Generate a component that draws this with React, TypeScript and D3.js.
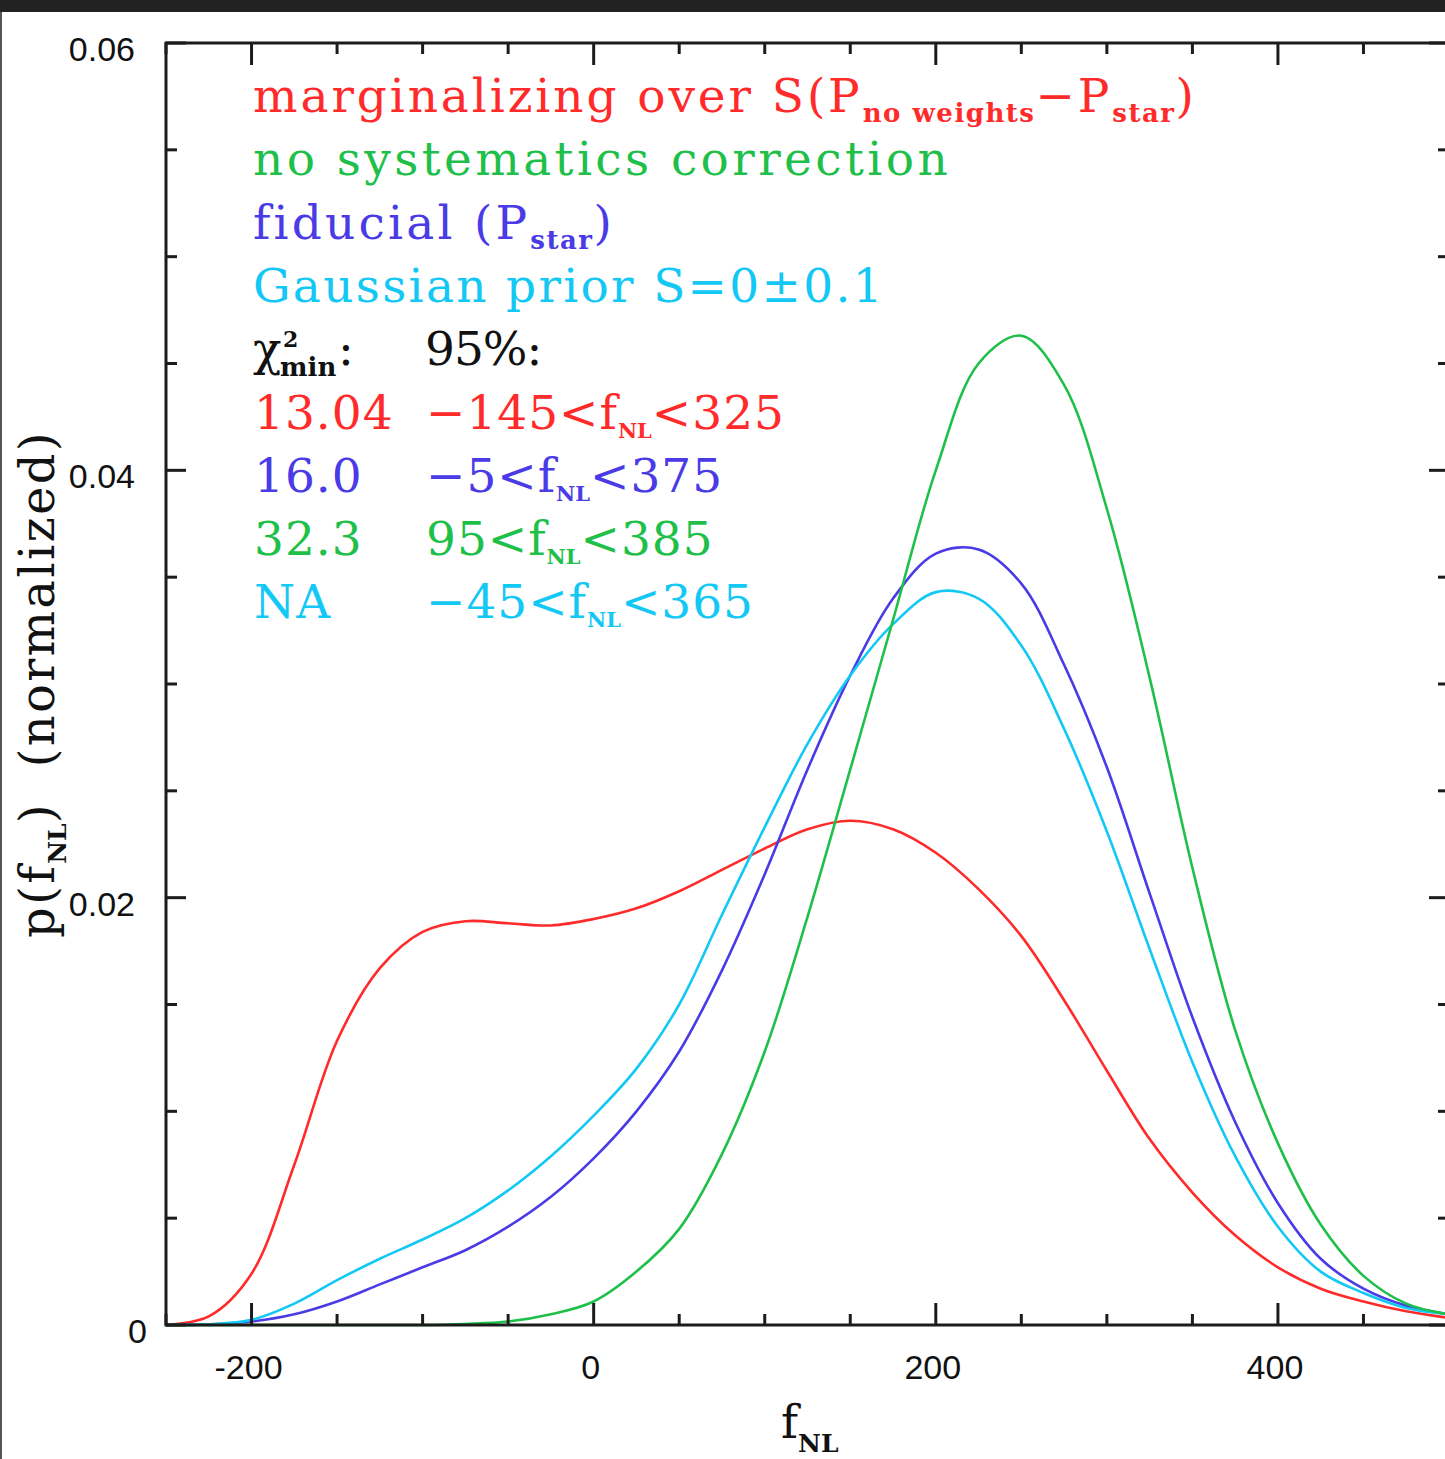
import React from 'react'
import * as d3 from 'd3'

// f_NL sample points (x) and normalized posterior for each run
const fGrid = [-250, -225, -200, -175, -150, -125, -100, -75, -50, -25, 0, 25, 50, 75, 100, 125, 150, 175, 200, 225, 250, 275, 300, 325, 350, 375, 400, 425, 450, 475, 500]
const redVals = [0, 0.0004, 0.0024, 0.0075, 0.0133, 0.0167, 0.0184, 0.0189, 0.0188, 0.0187, 0.019, 0.0195, 0.0203, 0.0213, 0.0223, 0.0232, 0.0236, 0.0232, 0.0221, 0.0204, 0.0182, 0.0152, 0.0119, 0.0087, 0.0062, 0.0042, 0.0027, 0.0017, 0.0011, 0.00064, 0.00033]
const blueVals = [0, 0.00003, 0.00016, 0.0005, 0.0011, 0.0019, 0.0027, 0.0035, 0.0046, 0.006, 0.0078, 0.01, 0.0128, 0.0166, 0.0211, 0.026, 0.0304, 0.034, 0.0361, 0.0363, 0.0347, 0.0309, 0.0261, 0.0202, 0.0144, 0.0095, 0.0057, 0.0031, 0.0017, 0.0009, 0.0005]
const cyanVals = [0, 0.00003, 0.00024, 0.001, 0.0021, 0.0031, 0.004, 0.005, 0.0063, 0.0079, 0.0098, 0.012, 0.015, 0.0192, 0.0233, 0.0272, 0.0304, 0.0328, 0.0343, 0.034, 0.0318, 0.0279, 0.0231, 0.0176, 0.0123, 0.0079, 0.0046, 0.0025, 0.0015, 0.0008, 0.0005]
const greenVals = [0, 0, 0, 0, 0, 0, 0, 0.00005, 0.00016, 0.0005, 0.0011, 0.0025, 0.0045, 0.008, 0.0128, 0.0191, 0.026, 0.033, 0.04, 0.045, 0.0463, 0.044, 0.0382, 0.0303, 0.0214, 0.0138, 0.0085, 0.0047, 0.0023, 0.001, 0.0005]

const seriesNames = ['marginalizing', 'fiducial', 'gaussian', 'nosys']
const seriesColors = ['#ff2b2b', '#4a3be6', '#14c8f5', '#1fc04a']
const seriesValues = [redVals, blueVals, cyanVals, greenVals]

const xTickLabels = ['-200', '0', '200', '400']
const yTickLabels = ['0', '0.02', '0.04', '0.06']

const RED = seriesColors[0], BLUE = seriesColors[1], CYAN = seriesColors[2], GREEN = seriesColors[3]

// legend rows: segments of [text, kind]; kind: m = main, s = subscript
const legendRows = [
  { color: RED, spacing: 2.9, parts: [['marginalizing over S(P', 'm'], ['no weights', 's'], ['\u2212P', 'm'], ['star', 's'], [')', 'm']] },
  { color: GREEN, spacing: 3.4, parts: [['no systematics correction', 'm']] },
  { color: BLUE, spacing: 3.2, parts: [['fiducial (P', 'm'], ['star', 's'], [')', 'm']] },
  { color: CYAN, spacing: 2.3, parts: [['Gaussian prior S=0\u00b10.1', 'm']] },
]
const chiCol = ['13.04', '16.0', '32.3', 'NA']
const rangeLo = ['\u2212145', '\u22125', '95', '\u221245']
const rangeHi = ['325', '375', '385', '365']
const rangeColors = [RED, BLUE, GREEN, CYAN]

const W = 1445
const H = 1459

export default function App() {
  const x = d3.scaleLinear().domain([-250, 500]).range([166, 1449])
  const y = d3.scaleLinear().domain([0, 0.06]).range([1325, 43])

  const line = d3.line<number>()
    .x((_, i) => x(fGrid[i]))
    .y(d => y(d))
    .curve(d3.curveCatmullRom.alpha(0.5))

  const xMinor = x.ticks(15)
  const xMajor = x.ticks(4)
  const yMinor = y.ticks(12)
  const yMajor = y.ticks(3)

  const serif = "'DejaVu Serif', serif"
  const sans = "'Liberation Sans', Arial, sans-serif"
  const mainSize = 47
  const subSize = 26
  const rowY0 = 112
  const rowStep = 63.3

  return (
    <div style={{ position: 'absolute', left: 0, top: 0 }}>
      <svg width={W} height={H} style={{ display: 'block', background: '#fff' }}>
        <rect x={0} y={0} width={W} height={12} fill="#222" />
        <line x1={1} x2={1} y1={12} y2={H} stroke="#555" strokeWidth={2} />

        {/* curves */}
        <g fill="none" strokeWidth={2.6} strokeLinejoin="round">
          {seriesValues.map((vals, i) => (
            <path key={seriesNames[i]} d={line(vals) || ''} stroke={seriesColors[i]} />
          ))}
        </g>

        {/* frame */}
        <rect x={166} y={43} width={1283} height={1282} fill="none" stroke="#1c1c1c" strokeWidth={3} />

        {/* ticks */}
        <g stroke="#1c1c1c" strokeWidth={3}>
          {xMinor.map(v => {
            const len = xMajor.includes(v) ? 22 : 11
            return (
              <g key={'x' + v}>
                <line x1={x(v)} x2={x(v)} y1={1325} y2={1325 - len} />
                <line x1={x(v)} x2={x(v)} y1={43} y2={43 + len} />
              </g>
            )
          })}
          {yMinor.map(v => {
            const len = yMajor.some(m => Math.abs(m - v) < 1e-9) ? 20 : 11
            return (
              <g key={'y' + v}>
                <line x1={166} x2={166 + len} y1={y(v)} y2={y(v)} />
                <line x1={1449} x2={1449 - len} y1={y(v)} y2={y(v)} />
              </g>
            )
          })}
        </g>

        {/* tick labels */}
        <g fontFamily={sans} fontSize={34} fill="#111">
          {xMajor.map((v, i) => (
            <text key={'xl' + v} x={x(v) - 3} y={1379} textAnchor="middle">{xTickLabels[i]}</text>
          ))}
          {yMajor.map((v, i) => (
            <text key={'yl' + v} x={v === 0 ? 147 : 135} y={y(v) + 18} textAnchor="end">{yTickLabels[i]}</text>
          ))}
        </g>

        {/* axis titles */}
        <text x={781} y={1438} fontFamily={serif} fontSize={46} fill="#111">
          f<tspan dy={14} fontSize={25} fontWeight="bold">NL</tspan>
        </text>
        <text transform="translate(54,684) rotate(-90)" textAnchor="middle" fontFamily={serif} fontSize={48} letterSpacing={2.3} fill="#111">
          p(f<tspan dy={12} fontSize={25} fontWeight="bold" letterSpacing={0}>NL</tspan><tspan dy={-12}>{')\u00a0\u00a0(normalized)'}</tspan>
        </text>

        {/* legend */}
        <g fontFamily={serif}>
          {legendRows.map((row, r) => {
            let shift = 0
            return (
              <text key={'lg' + r} x={253} y={rowY0 + r * rowStep} fill={row.color} fontSize={mainSize} letterSpacing={row.spacing}>
                {row.parts.map(([t, k], j) => {
                  const dy = k === 's' ? 10 - shift : -shift
                  shift = k === 's' ? 10 : 0
                  return k === 's'
                    ? <tspan key={j} dy={dy} fontSize={subSize} fontWeight="bold" letterSpacing={1.5}>{t}</tspan>
                    : <tspan key={j} dy={dy}>{t}</tspan>
                })}
              </text>
            )
          })}

          <g fill="#111">
            <text x={253} y={rowY0 + 4 * rowStep} fontSize={mainSize}>{'\u03c7'}</text>
            <text x={283} y={rowY0 + 4 * rowStep - 18} fontSize={22} fontWeight="bold">2</text>
            <text x={280} y={rowY0 + 4 * rowStep + 11} fontSize={subSize} fontWeight="bold">min</text>
            <text x={338} y={rowY0 + 4 * rowStep} fontSize={mainSize}>:</text>
            <text x={425} y={rowY0 + 4 * rowStep} fontSize={mainSize} letterSpacing={-1}>95%:</text>
          </g>

          {chiCol.map((c, i) => (
            <g key={'cr' + i} fill={rangeColors[i]} fontSize={mainSize} letterSpacing={1}>
              <text x={254} y={rowY0 + (5 + i) * rowStep}>{c}</text>
              <text x={426} y={rowY0 + (5 + i) * rowStep}>
                {rangeLo[i] + '<f'}
                <tspan dy={9} fontSize={21} fontWeight="bold" letterSpacing={0}>NL</tspan>
                <tspan dy={-9}>{'<' + rangeHi[i]}</tspan>
              </text>
            </g>
          ))}
        </g>
      </svg>
    </div>
  )
}
